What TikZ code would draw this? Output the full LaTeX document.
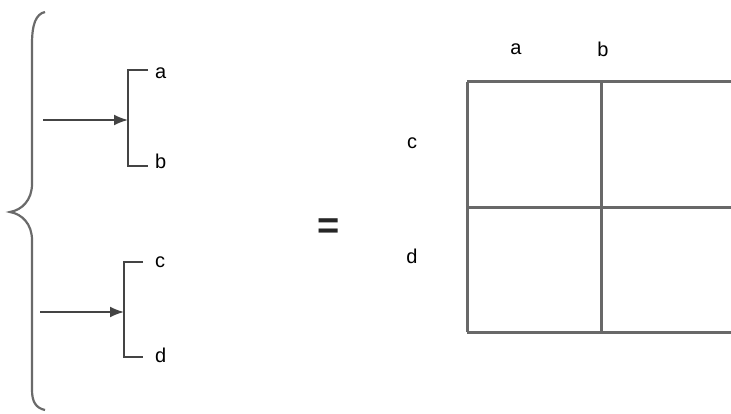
\documentclass[tikz,border=0pt]{standalone}
\usepackage{fontspec}
\setmainfont{Liberation Sans}
\usetikzlibrary{arrows.meta}
\definecolor{gridgray}{HTML}{686868}
\definecolor{linegray}{HTML}{444444}
\definecolor{bracegray}{HTML}{6A6A6A}
\tikzset{
  lbl/.style={font=\fontsize{20}{20}\selectfont, text=black, inner sep=0pt},
  gridline/.style={draw=gridgray, line width=3pt},
  bracketline/.style={draw=linegray, line width=2pt},
  arrowline/.style={draw=linegray, line width=1.8pt, -{Latex[length=14pt,width=11pt]}},
  braceline/.style={draw=bracegray, line width=2.2pt},
}
\begin{document}
\begin{tikzpicture}[x=1pt,y=-1pt]
\useasboundingbox (0,0) rectangle (731,414);
% big curly brace
\draw[braceline] (45,12) .. controls (36,14) and (32,24) .. (32,44) -- (32,184)
  .. controls (32,200) and (22,210) .. (10,212)
  .. controls (22,214) and (32,224) .. (32,240) -- (32,390)
  .. controls (32,402) and (36,408) .. (45,410);
% upper bracket
\coordinate (b1t) at (128,70);
\coordinate (b1b) at (128,166);
\coordinate (b1m) at (128,120);
\coordinate (s1) at (43,120);
\draw[bracketline] (148,70) -- (b1t) -- (b1b) -- (148,166);
\draw[arrowline] (s1) -- (b1m);
\node[lbl, anchor=west] (la1) at (155,73) {a};
\node[lbl, anchor=west] (lb1) at (155,161) {b};
% lower bracket
\coordinate (b2t) at (124,262);
\coordinate (b2b) at (124,357);
\coordinate (b2m) at (124,312);
\coordinate (s2) at (40,312);
\draw[bracketline] (143,262) -- (b2t) -- (b2b) -- (143,357);
\draw[arrowline] (s2) -- (b2m);
\node[lbl, anchor=west] (lc1) at (155,262) {c};
\node[lbl, anchor=west] (ld1) at (155,355) {d};
% equal sign
\node[font=\fontsize{38}{38}\selectfont\bfseries, text=black!85, inner sep=0pt] (eq) at (329,229) {=};
% grid
\draw[gridline] (467,82) -- (731,82);
\draw[gridline] (467,208) -- (731,208);
\draw[gridline] (467,332) -- (731,332);
\draw[gridline] (467,82) -- (467,332);
\draw[gridline] (601,82) -- (601,332);
\node[lbl] (ga) at (516,49) {a};
\node[lbl] (gb) at (603,49) {b};
\node[lbl] (gc) at (412,143) {c};
\node[lbl] (gd) at (412,256) {d};
\end{tikzpicture}
\end{document}
